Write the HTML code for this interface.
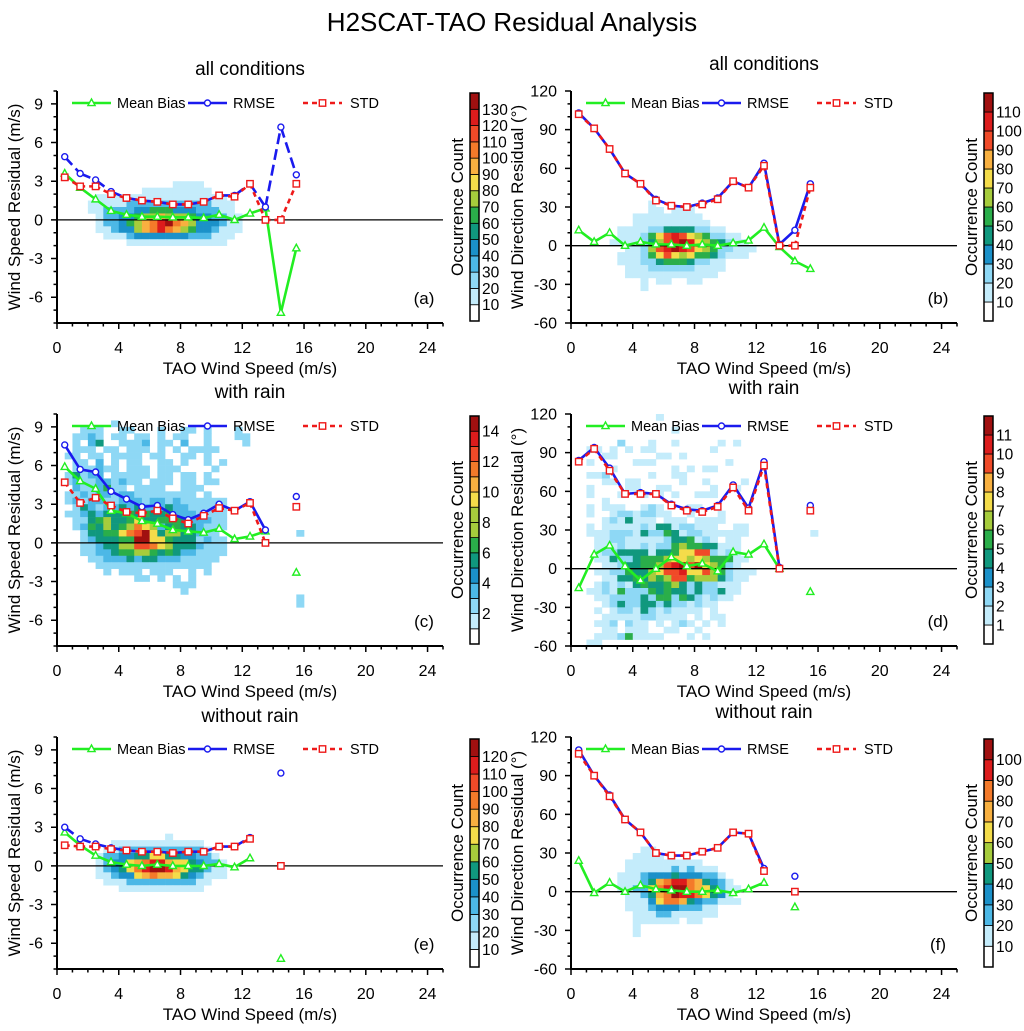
<!DOCTYPE html>
<html><head><meta charset="utf-8"><style>
body{margin:0;background:#fff}
svg{display:block;font-family:"Liberation Sans",sans-serif}
</style></head><body>
<svg id="fig" width="1024" height="1031" viewBox="0 0 1024 1031">
<text x="512" y="31" text-anchor="middle" font-size="26">H2SCAT-TAO Residual Analysis</text>
</svg>
<script>
// ---------- data ----------
const xCenters = [0.5,1.5,2.5,3.5,4.5,5.5,6.5,7.5,8.5,9.5,10.5,11.5,12.5,13.5,14.5,15.5];
const xTicks = [0,4,8,12,16,20,24];
const speedTicks = [-6,-3,0,3,6,9];
const dirTicks = [-60,-30,0,30,60,90,120];

const aMeanBias = [3.6,2.5,1.6,0.7,0.4,0.25,0.25,0.2,0.2,0.15,0.4,0.0,0.5,0.9,-7.2,-2.2];
const aRMSE = [4.9,3.6,3.1,2.2,1.7,1.5,1.4,1.2,1.2,1.4,1.9,1.9,2.8,1.0,7.2,3.5];
const aSTD = [3.3,2.6,2.6,2.0,1.7,1.5,1.4,1.2,1.2,1.4,1.9,1.8,2.8,0.0,0.0,2.8];
const bMeanBias = [12,3,10,0,3,1,1,0,1,0,2,4,14,-1,-12,-18];
const bRMSE = [103,91,75,56,48,36,31,30,33,37,50,45,64,1,12,48];
const bSTD = [102,91,75,56,48,35,31,30,32,36,50,45,62,0,0,45];
const cMeanBias = [5.9,4.8,4.2,2.5,2.3,1.7,1.5,1.0,0.9,0.8,1.1,0.3,0.5,0.9,null,-2.3];
const cRMSE = [7.6,5.7,5.5,4.0,3.4,2.8,2.9,2.2,1.8,2.3,3.0,2.5,3.2,1.0,null,3.6];
const cSTD = [4.7,3.1,3.5,2.9,2.4,2.3,2.5,1.9,1.5,2.1,2.7,2.5,3.1,0.0,null,2.8];
const dMeanBias = [-15,11,18,2,-9,0,9,2,4,-2,13,11,19,0,null,-18];
const dRMSE = [84,94,78,58,59,58,50,46,45,49,65,47,83,1,null,49];
const dSTD = [83,93,76,58,58,58,49,45,44,48,63,45,80,0,null,45];
const eMeanBias = [2.6,1.6,0.8,0.3,0.1,0.0,0.1,0.0,0.0,0.0,0.15,-0.1,0.6,null,-7.2,null];
const eRMSE = [3.0,2.1,1.7,1.4,1.2,1.1,1.1,1.0,1.1,1.1,1.5,1.5,2.2,null,7.2,null];
const eSTD = [1.6,1.5,1.5,1.3,1.2,1.1,1.1,1.0,1.1,1.1,1.5,1.5,2.1,null,0.0,null];
const fMeanBias = [24,-1,7,0,5,2,1,0,0,1,-1,2,7,null,-12,null];
const fRMSE = [110,90,75,56,46,30,28,28,31,34,46,45,18,null,12,null];
const fSTD = [107,90,74,56,46,30,28,28,31,34,46,45,16,null,0,null];

// heatmap rows (top row first), digits 0-9 = relative occurrence
const aHeat = ["0000000000001111000000","0000000011111111100000","0011111111111111111000","0111112222222222211100","0112222334443332221100","0012233455655543322110","0012234567897653332110","0011233567876543321110","0001112333333322211100","0000001111111111111000"];
const bHeat = ["0000000100000000000000","0000000110111000000000","0000011111111100000000","0000011111111110000000","0001111223333221100000","0001112467876542211000","0011112357898654321100","0000112578987654221110","0001112467656443211100","0001112234443221100000","0000111222222111100000","0000111111111111000000","0000001011001100000000","0000001000000000000000"];
const cHeat = ["0000001000000000000000000000000","0011100110001001101000100000000","0112101101101011001000110000000","0102300111201102001000010000000","0111011011101010111100000000000","1101101111011001101000000000000","0110201011001101001010000000000","0111211011101110000100000000000","1312201111101101101000000000000","1211221211011101101100000000000","0211241101111001110000000000000","1121221221111111101000000000000","1212211222122121111110000000000","0132122323222322111110000000000","1123233343433422211110000000000","0113453346334443222110000000000","0124353457652343321110000000000","0013344678963553321100000000001","0012333449966433312110000000000","0011233558876533321110000000000","0011223445543432211110000000000","0001122232332221111100000000000","0000111111111111111000000000000","0000010111011100101000000000000","0000000001101010100000000000000","0000000000000011100000000000000","0000000000000001000000000000000","0000000000000000000000000000001","0000000000000000000000000000001"];
const dHeat = ["0000000000100000000000000000000","0000000000000000000000000000000","0000000000001000000000000000000","0000000000000000000000000000000","0000020001001000001010000000000","0110101011000000010000000000000","0001100000110100000000000000000","0100000111000000000100000000000","0000100000001010110000000000000","0112000001001100000000000000000","0001101100000100100001000000000","0100001100110000010010000000000","0100010010101001110000000000000","0001000000000000000000000000000","0101110012100011000000000000000","0100122122110010001000000000000","0001213111011101111000000000000","0101111121331221110011000000000","0111222132243122111111000000001","0011221111123341210110000000000","0011121121224544331110000000000","0012233331334667721210000000000","0011322344456656544411000000000","0001123344578979654210000000000","0011224335677866754211100000000","0001133435457745553211000000000","0012121343345323221110000000000","0112142224343323223110000000000","0011222232442432121100000000000","0001232233232212110000000000000","0010122132121111010000000000000","0001111122111101011000000000000","0011202110101210101000000000000","0001101110011001000000000000000","0011124111100010100000000000000","0110000000000000000000000000000"];
const eHeat = ["00000000000100000000","00001111111111110000","00011222222222221000","00122334455443322100","00123356788655432210","00123457899865442110","00112335676654321110","00011122222222211000","00000111111111110000"];
const fHeat = ["00000011000000000000","00000111100000000000","00001111111111000000","00001111112121110000","00011123334333221000","00011124678876432100","00011225789976542110","00001124679887543100","00001113577643221110","00001112333222110000","00000111221111110000","00000111111011000000","00000100000000000000","00000100000000000000"];

const baseColors = ['#ffffff','#c4ecfb','#8ed8f5','#4cb8e6','#1b91c9','#10987e','#2aae4a','#a6cc3c','#f4dc4a','#f8b040','#f47a2a','#f04a28','#dc1c1c','#a01010'];

const NS = 'http://www.w3.org/2000/svg';
const svg = document.getElementById('fig');
function mk(tag, attrs, parent){const e=document.createElementNS(NS,tag);for(const k in attrs)e.setAttribute(k,attrs[k]);(parent||svg).appendChild(e);return e;}

const panels = [
 {id:'a',L:57,T:91,kind:'speed',title:'all conditions',titleY:75,mb:aMeanBias,rm:aRMSE,sd:aSTD,heat:aHeat,hx0:1.5,hy0:3.0,hdy:0.5,nbox:14,step:10,every:1,rmDash:'11 5',ytOff:42},
 {id:'b',L:571,T:91,kind:'dir',title:'all conditions',titleY:70,mb:bMeanBias,rm:bRMSE,sd:bSTD,heat:bHeat,hx0:1.5,hy0:35,hdy:5,nbox:12,step:10,every:1,rmDash:null,ytOff:53},
 {id:'c',L:57,T:414,kind:'speed',title:'with rain',titleY:398,mb:cMeanBias,rm:cRMSE,sd:cSTD,heat:cHeat,hx0:0.5,hy0:9.5,hdy:0.5,nbox:15,step:1,every:2,rmDash:null,ytOff:42},
 {id:'d',L:571,T:414,kind:'dir',title:'with rain',titleY:394,mb:dMeanBias,rm:dRMSE,sd:dSTD,heat:dHeat,hx0:0.5,hy0:120,hdy:5,nbox:12,step:1,every:1,rmDash:null,ytOff:53},
 {id:'e',L:57,T:737,kind:'speed',title:'without rain',titleY:722,mb:eMeanBias,rm:eRMSE,sd:eSTD,heat:eHeat,hx0:1.5,hy0:2.5,hdy:0.5,nbox:13,step:10,every:1,rmDash:'11 5',ytOff:42},
 {id:'f',L:571,T:737,kind:'dir',title:'without rain',titleY:718,mb:fMeanBias,rm:fRMSE,sd:fSTD,heat:fHeat,hx0:1.5,hy0:35,hdy:5,nbox:11,step:10,every:1,rmDash:null,ytOff:53}
];

panels.forEach(p=>{
 const W=386,H=232,B=p.T+H,R=p.L+W;
 const ymin=p.kind==='speed'?-8:-60, ymax=p.kind==='speed'?10:120;
 const sx=v=>p.L+v/25*W;
 const sy=v=>B-(v-ymin)/(ymax-ymin)*H;
 const g=mk('g',{});
 
 
 const cols=[];for(let i=0;i<p.nbox;i++)cols.push(baseColors[Math.round(i*13/(p.nbox-1))]);
 const t=mk('text',{x:p.L+193,y:p.titleY,'text-anchor':'middle','font-size':19},g);t.textContent=p.title;
 
 
 const hg=mk('g',{},g);
 
 
 p.heat.forEach((row,ri)=>{
  for(let ci=0;ci<row.length;ci++){
   const d=+row[ci]; if(!d)continue;
   const v0=p.hx0+ci*0.5, y1=p.hy0-ri*p.hdy, y0=y1-p.hdy;
   const c=mk('rect',{x:sx(v0),y:sy(y1),width:sx(v0+0.5)-sx(v0)+0.3,height:sy(y0)-sy(y1)+0.3,fill:cols[Math.max(1,Math.round(d/9*(p.nbox-1)))]},hg);
   
   
  }
 });
 const z=mk('line',{x1:p.L,x2:R,y1:sy(0),y2:sy(0),stroke:'#000','stroke-width':1.3},g);
 
 
 const ax=mk('path',{d:`M${p.L},${p.T}V${B}H${R}`,stroke:'#000','stroke-width':2,fill:'none'},g);
 
 
 let tk='';
 for(let v=0;v<=25;v++){tk+=`M${sx(v)},${B}v${v%4===0?6:3.5}`;}
 const yMinor=p.kind==='speed'?1:10, yMajor=p.kind==='speed'?3:30;
 for(let v=ymin;v<=ymax;v+=yMinor){tk+=`M${p.L},${sy(v)}h${v%yMajor===0?-6:-3.5}`;}
 mk('path',{d:tk,stroke:'#000','stroke-width':1.5,fill:'none'},g);
 xTicks.forEach(v=>{const e=mk('text',{x:sx(v),y:B+30,'text-anchor':'middle','font-size':16},g);e.textContent=v;
  
  });
 (p.kind==='speed'?speedTicks:dirTicks).forEach(v=>{const e=mk('text',{x:p.L-14,y:sy(v)+5.5,'text-anchor':'end','font-size':16},g);e.textContent=v;
  
  });
 const xt=mk('text',{x:p.L+193,y:B+51,'text-anchor':'middle','font-size':17},g);xt.textContent='TAO Wind Speed (m/s)';
 
 
 const yc=p.T+H/2, yx=p.L-p.ytOff;
 const yt=mk('text',{x:yx,y:yc,'text-anchor':'middle','font-size':17,transform:`rotate(-90 ${yx} ${yc})`,dy:5},g);
 yt.textContent=p.kind==='speed'?'Wind Speed Residual (m/s)':'Wind Direction Residual (°)';
 
 
 function series(vals,color,dash,marker,name){
  const sg=mk('g',{},g);
  
  
  let d='';
  for(let i=1;i<vals.length;i++){if(vals[i]!=null&&vals[i-1]!=null)d+=`M${sx(xCenters[i-1])},${sy(vals[i-1])}L${sx(xCenters[i])},${sy(vals[i])}`;}
  const ln=mk('path',{d,stroke:color,'stroke-width':2.6,fill:'none','stroke-linejoin':'round'},sg);
  if(dash)ln.setAttribute('stroke-dasharray',dash);
  vals.forEach((v,i)=>{if(v==null)return;drawMarker(sg,marker,sx(xCenters[i]),sy(v),color);});
 }
 series(p.mb,'#22ee22',null,'tri','mean-bias');
 series(p.rm,'#1a1aee',p.rmDash,'circ','rmse');
 series(p.sd,'#ee1a1a','5 4','sq','std');
 const ly=p.T+12, lx=p.L+15;
 const lg=mk('g',{},g);
 
 
 [[0,'#22ee22',null,'tri','Mean Bias'],[116,'#1a1aee',null,'circ','RMSE'],[231,'#ee1a1a','5 4','sq','STD']].forEach(([o,c,da,m,lab])=>{
  const l=mk('line',{x1:lx+o,x2:lx+o+39,y1:ly,y2:ly,stroke:c,'stroke-width':2.6},lg);if(da)l.setAttribute('stroke-dasharray',da);
  drawMarker(lg,m,lx+o+19.5,ly,c);
  const tt=mk('text',{x:lx+o+(lab==='STD'?47:45),y:ly+5,'font-size':14.5},lg);tt.textContent=lab;
  
  
 });
 const pl=mk('text',{x:R-19,y:B-19,'text-anchor':'middle','font-size':17},g);pl.textContent='('+p.id+')';
 
 
 const cbx=R+27, cbT=p.T+2, cbH=228, bh=cbH/p.nbox;
 const cg=mk('g',{},g);
 
 
 for(let i=0;i<p.nbox;i++){
  mk('rect',{x:cbx,y:cbT+(p.nbox-1-i)*bh,width:9,height:bh,fill:cols[i],stroke:'#000','stroke-width':0.8},cg);
 }
 mk('rect',{x:cbx,y:cbT,width:9,height:cbH,fill:'none',stroke:'#000','stroke-width':1.5},cg);
 for(let j=1;j<p.nbox;j++){
  const val=(p.nbox-j)*p.step; if(val%(p.every*p.step)!==0)continue;
  const e=mk('text',{x:cbx+12,y:cbT+j*bh+5.5,'font-size':15.5},cg);e.textContent=val;
 }
 const cx=R+15, cy=p.T+116;
 const ct=mk('text',{x:cx,y:cy,'text-anchor':'middle','font-size':17,transform:`rotate(-90 ${cx} ${cy})`,dy:5},cg);ct.textContent='Occurrence Count';
 
 
});
function drawMarker(parent,m,x,y,c){
 let e;
 if(m==='circ')e=mk('circle',{cx:x,cy:y,r:3,fill:'#fff',stroke:c,'stroke-width':1.4},parent);
 else if(m==='sq')e=mk('rect',{x:x-3.2,y:y-3.2,width:6.4,height:6.4,fill:'#fff',stroke:c,'stroke-width':1.4},parent);
 else e=mk('path',{d:`M${x},${y-4}L${x+3.6},${y+2.6}L${x-3.6},${y+2.6}Z`,fill:'#fff',stroke:c,'stroke-width':1.4},parent);
 
 
}
</script>
</body></html>
